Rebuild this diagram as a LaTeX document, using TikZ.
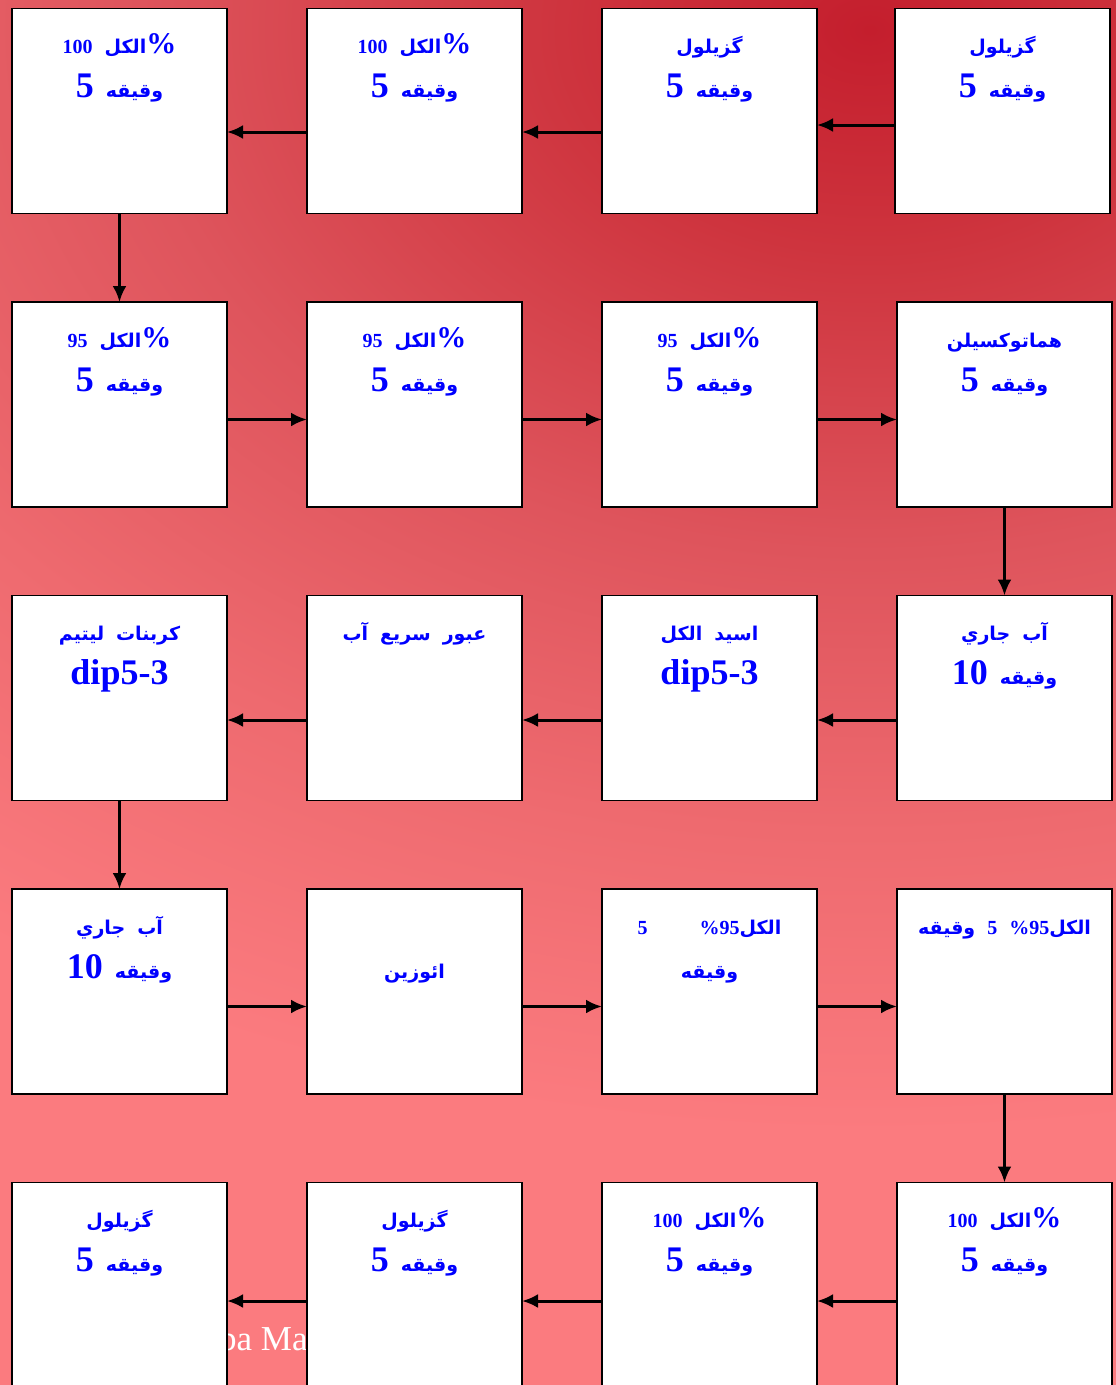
\documentclass[tikz,border=0pt]{standalone}
\usepackage{fontspec}
\setmainfont{Liberation Serif}
\newfontfamily\arabicfont[Script=Arabic]{DejaVu Sans}
\TeXXeTstate=1
\usepackage{xcolor}
\usepackage{tikz}
\usetikzlibrary{arrows.meta, positioning}
\definecolor{bgdeep}{RGB}{196,30,45}
\definecolor{bgdark}{RGB}{206,52,62}
\definecolor{bgmid}{RGB}{222,84,92}
\definecolor{bglight}{RGB}{238,106,111}
\definecolor{bgpink}{RGB}{251,123,127}
\definecolor{inkblue}{RGB}{0,0,255}
\pgfdeclareradialshading{bgred}{\pgfpoint{0bp}{0bp}}{%
  color(0bp)=(bgdeep); color(220bp)=(bgdark); color(520bp)=(bgmid);
  color(800bp)=(bglight); color(1100bp)=(bgpink); color(1800bp)=(bgpink)}

\newcommand{\fatxt}[1]{{\arabicfont\fontsize{19}{24}\selectfont\beginR #1\endR}}
\newcommand{\numsm}[1]{{\fontsize{20}{24}\selectfont #1}}
\newcommand{\pct}{{\fontsize{30}{36}\selectfont\%}}

\begin{document}
\begin{tikzpicture}[
  x=1pt, y=-1pt,
  stagebox/.style={
    draw=black, line width=1.5pt, fill=white, inner sep=0pt, outer sep=0pt,
    text width=215pt, align=center,
    text height=45pt, text depth=160pt,
    font=\fontsize{36}{44}\selectfont\bfseries, text=inkblue
  },
  flow/.style={draw=black, line width=3pt, -{Latex[length=16pt,width=14pt]}},
  node distance=88.5pt and 80pt
]

% ── FONDO ────────────────────────────────────────────────────
\useasboundingbox (0,0) rectangle (1116,1385);
\begin{scope}
  \clip (0,0) rectangle (1116,1385);
  \begin{scope}[shift={(870,30)}, xscale=1.4]
    \node[inner sep=0pt, transform shape] (bgfill) at (0,0) {\pgfuseshading{bgred}};
  \end{scope}
\end{scope}
\node[anchor=base west, inner sep=0pt, text=white,
  font=\fontsize{35}{40}\selectfont] (mark) at (219,1350) {ba Ma};

% ── ETAPAS ───────────────────────────────────────────────────

% fila 1 (derecha a izquierda)
\node[stagebox] (alc100b) at (119.5,111) {\numsm{100} \fatxt{الکل}\pct\\5 \fatxt{وقیقه}};
\node[stagebox, right=of alc100b] (alc100a) {\numsm{100} \fatxt{الکل}\pct\\5 \fatxt{وقیقه}};
\node[stagebox, right=of alc100a] (xilol2) {\fatxt{گزیلول}\\5 \fatxt{وقیقه}};
\node[stagebox, right=78pt of xilol2] (xilol1) {\fatxt{گزیلول}\\5 \fatxt{وقیقه}};

% fila 2 (izquierda a derecha)
\node[stagebox, below=of alc100b] (alc95a) {\numsm{95} \fatxt{الکل}\pct\\5 \fatxt{وقیقه}};
\node[stagebox, right=of alc95a] (alc95b) {\numsm{95} \fatxt{الکل}\pct\\5 \fatxt{وقیقه}};
\node[stagebox, right=of alc95b] (alc95c) {\numsm{95} \fatxt{الکل}\pct\\5 \fatxt{وقیقه}};
\node[stagebox, right=of alc95c] (hema) {\fatxt{هماتوکسیلن}\\5 \fatxt{وقیقه}};

% fila 3 (derecha a izquierda)
\node[stagebox, below=of alc95a] (lithium) {\fatxt{کربنات لیتیم}\\dip5-3};
\node[stagebox, right=of lithium] (rinse) {\fatxt{عبور سریع آب}};
\node[stagebox, right=of rinse] (acid) {\fatxt{اسید الکل}\\dip5-3};
\node[stagebox, right=of acid] (water1) {\fatxt{آب جاري}\\10 \fatxt{وقیقه}};

% fila 4 (izquierda a derecha)
\node[stagebox, below=of lithium] (water2) {\fatxt{آب جاري}\\10 \fatxt{وقیقه}};
\node[stagebox, right=of water2] (eosin) {\mbox{}\\\fatxt{ائوزین}};
\node[stagebox, right=of eosin] (alc95d) {\numsm{5\hspace{52pt}\%95}\fatxt{الکل}\\\fatxt{وقیقه}};
\node[stagebox, right=of alc95d] (alc95e) {\fatxt{وقیقه}\numsm{ 5\hspace{12pt}\%95}\fatxt{الکل}};

% fila 5 (derecha a izquierda)
\node[stagebox, below=of water2] (xilol4) {\fatxt{گزیلول}\\5 \fatxt{وقیقه}};
\node[stagebox, right=of xilol4] (xilol3) {\fatxt{گزیلول}\\5 \fatxt{وقیقه}};
\node[stagebox, right=of xilol3] (alc100d) {\numsm{100} \fatxt{الکل}\pct\\5 \fatxt{وقیقه}};
\node[stagebox, right=of alc100d] (alc100c) {\numsm{100} \fatxt{الکل}\pct\\5 \fatxt{وقیقه}};

% ── FLUJO ────────────────────────────────────────────────────

\draw[flow] ([yshift=-14pt]xilol1.west)  -- ([yshift=-14pt]xilol2.east);
\draw[flow] ([yshift=-21pt]xilol2.west)  -- ([yshift=-21pt]alc100a.east);
\draw[flow] ([yshift=-21pt]alc100a.west) -- ([yshift=-21pt]alc100b.east);
\draw[flow] (alc100b.south) -- (alc95a.north);

\draw[flow] ([yshift=-15pt]alc95a.east) -- ([yshift=-15pt]alc95b.west);
\draw[flow] ([yshift=-15pt]alc95b.east) -- ([yshift=-15pt]alc95c.west);
\draw[flow] ([yshift=-15pt]alc95c.east) -- ([yshift=-15pt]hema.west);
\draw[flow] (hema.south) -- (water1.north);

\draw[flow] ([yshift=-22pt]water1.west) -- ([yshift=-22pt]acid.east);
\draw[flow] ([yshift=-22pt]acid.west)   -- ([yshift=-22pt]rinse.east);
\draw[flow] ([yshift=-22pt]rinse.west)  -- ([yshift=-22pt]lithium.east);
\draw[flow] (lithium.south) -- (water2.north);

\draw[flow] ([yshift=-15pt]water2.east) -- ([yshift=-15pt]eosin.west);
\draw[flow] ([yshift=-15pt]eosin.east)  -- ([yshift=-15pt]alc95d.west);
\draw[flow] ([yshift=-15pt]alc95d.east) -- ([yshift=-15pt]alc95e.west);
\draw[flow] (alc95e.south) -- (alc100c.north);

\draw[flow] ([yshift=-16pt]alc100c.west) -- ([yshift=-16pt]alc100d.east);
\draw[flow] ([yshift=-16pt]alc100d.west) -- ([yshift=-16pt]xilol3.east);
\draw[flow] ([yshift=-16pt]xilol3.west)  -- ([yshift=-16pt]xilol4.east);

\end{tikzpicture}
\end{document}
